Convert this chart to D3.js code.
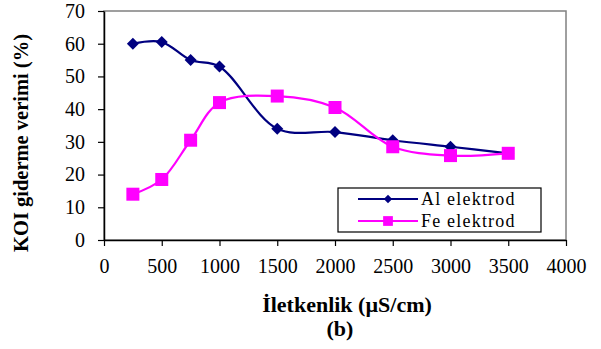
<!DOCTYPE html>
<html>
<head>
<meta charset="utf-8">
<script src="https://cdn.jsdelivr.net/npm/d3@7"></script>
<style>
  body { margin: 0; background: #fff; }
  svg text { font-family: "Liberation Serif", serif; }
</style>
</head>
<body>
<div id="chart"></div>
<script>
// conductivity values (x)
var conductivity = [250, 500, 750, 1000, 1500, 2000, 2500, 3000, 3500];
// removal efficiency (%)
var alValues = [60, 60.5, 55, 53, 34, 33, 30.5, 28.5, 26.5];
var feValues = [14, 18.5, 30.5, 42, 44, 40.5, 28.5, 25.8, 26.5];
var xTicks = [0, 500, 1000, 1500, 2000, 2500, 3000, 3500, 4000];
var yTicks = [0, 10, 20, 30, 40, 50, 60, 70];

var margin = { top: 11, right: 35, bottom: 109, left: 104 },
    width = 601 - margin.left - margin.right,
    height = 349 - margin.top - margin.bottom;

var svg = d3.select("#chart").append("svg")
    .attr("width", 601)
    .attr("height", 349);

var g = svg.append("g")
    .attr("transform", "translate(" + margin.left + "," + margin.top + ")");

var x = d3.scaleLinear().domain([0, 4000]).range([0, width]);
var y = d3.scaleLinear().domain([0, 70]).range([height, 0]);

// plot frame
g.append("rect")
    .attr("width", width)
    .attr("height", height)
    .attr("fill", "none")
    .attr("stroke", "#808080")
    .attr("stroke-width", 1.5);

// axes
var xAxis = g.append("g")
    .attr("transform", "translate(0," + height + ")")
    .call(d3.axisBottom(x).tickValues(xTicks).tickFormat(d3.format("d"))
        .tickSize(6).tickSizeOuter(0).tickPadding(13));
var yAxis = g.append("g")
    .call(d3.axisLeft(y).tickValues(yTicks).tickFormat(d3.format("d"))
        .tickSize(6).tickSizeOuter(0).tickPadding(13));

[xAxis, yAxis].forEach(function (a) {
    a.attr("font-family", null).attr("font-size", null);
    a.select(".domain").attr("stroke", "#000").attr("stroke-width", 1.5);
    a.selectAll(".tick line").attr("stroke", "#000").attr("stroke-width", 1.2);
    a.selectAll(".tick text")
        .attr("fill", "#000")
        .attr("font-family", "'Liberation Serif'")
        .attr("font-size", 20);
});

var line = d3.line()
    .x(function (d, i) { return x(conductivity[i]); })
    .y(function (d) { return y(d); })
    .curve(d3.curveCatmullRom.alpha(0.5));

var series = [
    { name: "Al elektrod", values: alValues, color: "#000080", shape: "diamond" },
    { name: "Fe elektrod", values: feValues, color: "#FF00FF", shape: "square" }
];

function marker(sel, s) {
    if (s.shape == "diamond") {
        sel.append("path")
            .attr("d", "M0,-6L6,0L0,6L-6,0Z")
            .attr("fill", s.color);
    } else {
        sel.append("rect")
            .attr("x", -6.5).attr("y", -6.5)
            .attr("width", 13).attr("height", 13)
            .attr("fill", s.color);
    }
}

series.forEach(function (s) {
    g.append("path")
        .datum(s.values)
        .attr("fill", "none")
        .attr("stroke", s.color)
        .attr("stroke-width", 2.2)
        .attr("d", line);
    s.values.forEach(function (v, i) {
        var m = g.append("g")
            .attr("transform", "translate(" + x(conductivity[i]) + "," + y(v) + ")");
        marker(m, s);
    });
});

// legend
var legend = svg.append("g").attr("transform", "translate(338,188)");
legend.append("rect")
    .attr("width", 203).attr("height", 44)
    .attr("fill", "#fff")
    .attr("stroke", "#000").attr("stroke-width", 1.2);
series.forEach(function (s, i) {
    var row = legend.append("g").attr("transform", "translate(0," + (11 + i * 22) + ")");
    row.append("line")
        .attr("x1", 20).attr("x2", 80)
        .attr("stroke", s.color).attr("stroke-width", 2.2);
    var m = row.append("g");
    marker(m, s);
    if (s.shape == "diamond") m.attr("transform", "translate(50,0) scale(0.7)");
    else m.attr("transform", "translate(50,0) scale(0.75)");
    row.append("text")
        .attr("x", 83).attr("y", 6)
        .attr("font-family", "'Liberation Serif'")
        .attr("font-size", 18)
        .attr("letter-spacing", 1.2)
        .text(s.name);
});

// axis titles
svg.append("text")
    .attr("transform", "translate(28,143) rotate(-90)")
    .attr("text-anchor", "middle")
    .attr("font-family", "'Liberation Serif'")
    .attr("font-size", 20.5)
    .attr("font-weight", "bold")
    .text("KOI giderme verimi (%)");

svg.append("text")
    .attr("x", 347).attr("y", 312)
    .attr("text-anchor", "middle")
    .attr("font-family", "'Liberation Serif'")
    .attr("font-size", 22)
    .attr("font-weight", "bold")
    .text("İletkenlik (µS/cm)");

svg.append("text")
    .attr("x", 340).attr("y", 336)
    .attr("text-anchor", "middle")
    .attr("font-family", "'Liberation Serif'")
    .attr("font-size", 22)
    .attr("font-weight", "bold")
    .text("(b)");
</script>
</body>
</html>
